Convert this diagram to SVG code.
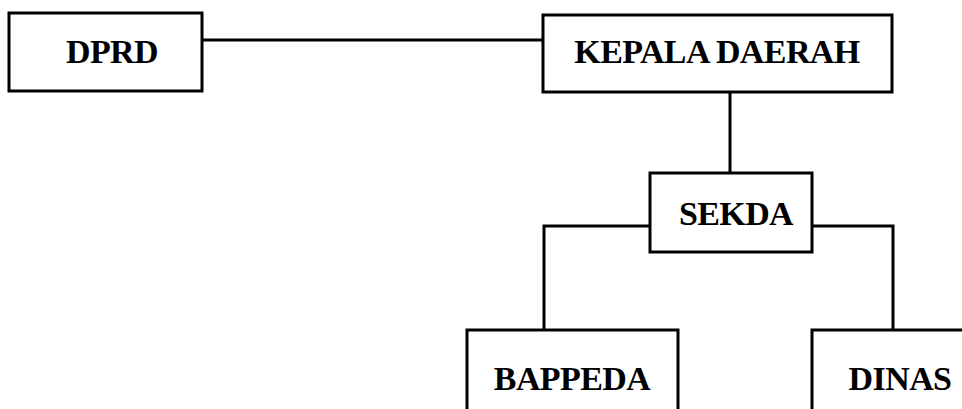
<svg xmlns="http://www.w3.org/2000/svg" width="962" height="409" viewBox="0 0 962 409">
<style>
.box{fill:#fff;stroke:#000;stroke-width:3}
.ln{fill:none;stroke:#000;stroke-width:3}
text{font-family:"Liberation Serif","Times New Roman",serif;font-weight:bold;font-size:34px;letter-spacing:-0.6px;fill:#000;text-anchor:middle}
</style>
<rect width="962" height="409" fill="#fff"/>
<g id="connectors">
<line class="ln" x1="202" y1="40" x2="543" y2="40"/>
<line class="ln" x1="730" y1="92" x2="730" y2="173"/>
<polyline class="ln" points="650,226 544,226 544,330"/>
<polyline class="ln" points="812,226 893,226 893,330"/>
</g>
<g id="dprd">
<rect class="box" x="9" y="13" width="193" height="78"/>
<text x="112" y="63">DPRD</text>
</g>
<g id="kepala-daerah">
<rect class="box" x="543" y="15" width="349" height="77"/>
<text x="717" y="63">KEPALA DAERAH</text>
</g>
<g id="sekda">
<rect class="box" x="650" y="173" width="162" height="79"/>
<text x="736" y="225">SEKDA</text>
</g>
<g id="bappeda">
<path class="ln" d="M467,412 V330 H678 V412"/>
<text x="572" y="390">BAPPEDA</text>
</g>
<g id="dinas">
<path class="ln" d="M812,412 V330 H965"/>
<text x="900" y="390">DINAS</text>
</g>
</svg>
